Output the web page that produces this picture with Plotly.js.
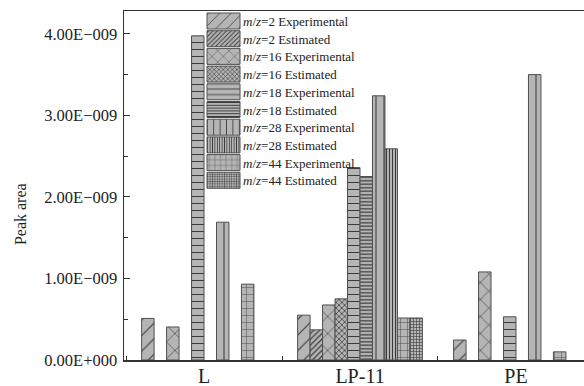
<!DOCTYPE html>
<html>
<head>
<meta charset="utf-8">
<script src="https://cdn.plot.ly/plotly-3.0.1.min.js"></script>
<style>
  html, body { margin: 0; padding: 0; overflow: hidden; background: #fff; }
  #chart { width: 610px; height: 386px; }
</style>
</head>
<body>
<div id="chart"></div>
<script>
// Samples on the x axis
const categories = ['L', 'LP-11', 'PE'];

// Peak areas per m/z, measured and estimated
const mz2Exp  = [0.51e-9, 0.55e-9, 0.245e-9];
const mz2Est  = [null, 0.37e-9, null];
const mz16Exp = [0.405e-9, 0.675e-9, 1.08e-9];
const mz16Est = [null, 0.75e-9, null];
const mz18Exp = [3.975e-9, 2.36e-9, 0.53e-9];
const mz18Est = [null, 2.25e-9, null];
const mz28Exp = [1.69e-9, 3.24e-9, 3.50e-9];
const mz28Est = [null, 2.59e-9, null];
const mz44Exp = [0.93e-9, 0.515e-9, 0.10e-9];
const mz44Est = [null, 0.515e-9, null];

// Y axis tick labels
const yTickVals = [0, 1e-9, 2e-9, 3e-9, 4e-9];
const yTickText = ['0.00E+000', '1.00E\u2212009', '2.00E\u2212009', '3.00E\u2212009', '4.00E\u2212009'];

const seriesNames = [
  '<i>m</i>/<i>z</i>=2 Experimental',
  '<i>m</i>/<i>z</i>=2 Estimated',
  '<i>m</i>/<i>z</i>=16 Experimental',
  '<i>m</i>/<i>z</i>=16 Estimated',
  '<i>m</i>/<i>z</i>=18 Experimental',
  '<i>m</i>/<i>z</i>=18 Estimated',
  '<i>m</i>/<i>z</i>=28 Experimental',
  '<i>m</i>/<i>z</i>=28 Estimated',
  '<i>m</i>/<i>z</i>=44 Experimental',
  '<i>m</i>/<i>z</i>=44 Estimated'
];
const seriesValues = [mz2Exp, mz2Est, mz16Exp, mz16Est, mz18Exp, mz18Est, mz28Exp, mz28Est, mz44Exp, mz44Est];

// Hatch style for each series: [shape, spacing, solidity]
const hatches = [
  ['/', 11, 0.1], ['/', 4, 0.3],
  ['x', 12, 0.1], ['x', 4, 0.35],
  ['-', 7, 0.15], ['-', 3.5, 0.35],
  ['|', 8, 0.13], ['|', 3, 0.35],
  ['+', 7, 0.12], ['+', 3, 0.35]
];

const serif = 'Liberation Serif, Times New Roman, serif';

const traces = seriesValues.map((vals, i) => ({
  type: 'bar',
  name: seriesNames[i],
  x: categories,
  y: vals,
  marker: {
    color: '#b5b5b5',
    line: { color: '#505050', width: 1 },
    pattern: {
      shape: hatches[i][0],
      size: hatches[i][1],
      solidity: hatches[i][2],
      fgcolor: '#3a3a3a',
      bgcolor: '#b5b5b5',
      fillmode: 'replace'
    }
  }
}));

const layout = {
  width: 610,
  height: 386,
  margin: { l: 124, r: 14, t: 11, b: 26 },
  paper_bgcolor: '#ffffff',
  plot_bgcolor: '#ffffff',
  barmode: 'group',
  bargap: 0.2,
  bargroupgap: 0,
  font: { family: serif, color: '#222', size: 16 },
  showlegend: true,
  legend: {
    x: 0.168, xanchor: 'left',
    y: 1, yanchor: 'top',
    bgcolor: 'rgba(0,0,0,0)',
    borderwidth: 0,
    font: { family: serif, size: 13, color: '#222' },
    itemwidth: 30,
    tracegroupgap: 0
  },
  xaxis: {
    type: 'category',
    range: [-0.513, 2.513],
    showline: true, linecolor: '#333', linewidth: 1.5,
    mirror: true,
    ticks: 'inside', tickson: 'boundaries', ticklen: 4, tickcolor: '#333', tickwidth: 1,
    tickfont: { family: serif, size: 20, color: '#222' },
    ticklabelstandoff: -3,
    showgrid: false, zeroline: false, fixedrange: true
  },
  yaxis: {
    range: [0, 4.28e-9],
    showline: true, linecolor: '#333', linewidth: 1.5,
    mirror: true,
    tickmode: 'array', tickvals: yTickVals, ticktext: yTickText,
    ticks: 'inside', ticklen: 6, tickcolor: '#333', tickwidth: 1,
    minor: { dtick: 0.5e-9, tick0: 0, ticks: 'inside', ticklen: 4, tickcolor: '#333', tickwidth: 1, showgrid: false },
    tickfont: { family: serif, size: 16.5, color: '#222' },
    ticklabelstandoff: 2,
    showgrid: false, zeroline: false, fixedrange: true
  },
  annotations: [{
    text: 'Peak area',
    xref: 'paper', yref: 'paper',
    x: 0, y: 0.418,
    xanchor: 'center', yanchor: 'middle',
    xshift: -104,
    textangle: -90,
    showarrow: false,
    font: { family: serif, size: 16, color: '#222' }
  }]
};

// Legend geometry: swatch box, text start, first row centre and row pitch (px)
const LEG_SWATCH_LEFT = 207, LEG_SWATCH_W = 33, LEG_SWATCH_H = 16;
const LEG_TEXT_LEFT = 243, LEG_ROW0 = 21, LEG_ROW_STEP = 17.7;

Plotly.newPlot('chart', traces, layout, { staticPlot: true, displayModeBar: false }).then(gd => {
  const root = gd.getBoundingClientRect();
  gd.querySelectorAll('.legend [clip-path]').forEach(e => e.removeAttribute('clip-path'));
  const items = gd.querySelectorAll('.legend .traces');
  items.forEach((g, i) => {
    const m = /translate\(([-\d.]+)[ ,]*([-\d.]*)\)/.exec(g.getAttribute('transform') || '');
    const tx = m ? parseFloat(m[1]) : 0;
    const ty = m && m[2] ? parseFloat(m[2]) : 0;
    const path = g.querySelector('.legendpoints path');
    const text = g.querySelector('.legendtext');
    // vertical: put the swatch centre on its row
    let pr = path.getBoundingClientRect();
    const cy = (pr.top + pr.bottom) / 2 - root.top;
    const dy = (LEG_ROW0 + i * LEG_ROW_STEP) - cy;
    g.setAttribute('transform', 'translate(' + tx + ',' + (ty + dy) + ')');
    // swatch: wide box with its left edge at LEG_SWATCH_LEFT
    pr = path.getBoundingClientRect();
    const pcx = (pr.left + pr.right) / 2 - root.left;
    const ox = LEG_SWATCH_LEFT + LEG_SWATCH_W / 2 - pcx;
    const l = ox - LEG_SWATCH_W / 2, r = ox + LEG_SWATCH_W / 2;
    const t = -LEG_SWATCH_H / 2, b = LEG_SWATCH_H / 2;
    path.setAttribute('d', 'M' + r + ',' + b + 'H' + l + 'V' + t + 'H' + r + 'Z');
    // text: start at LEG_TEXT_LEFT
    const trc = text.getBoundingClientRect();
    const curX = parseFloat(text.getAttribute('x') || '0');
    text.setAttribute('x', curX + (LEG_TEXT_LEFT - (trc.left - root.left)));
  });
});
</script>
</body>
</html>
